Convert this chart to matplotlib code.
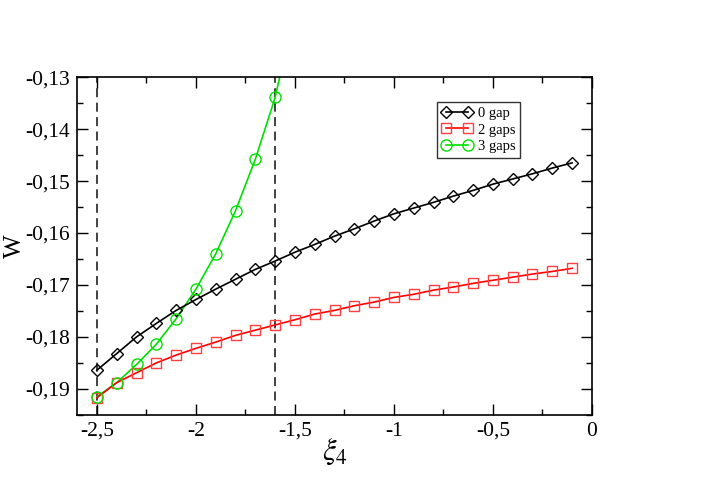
import matplotlib
matplotlib.use("Agg")
import matplotlib.pyplot as plt
from matplotlib.ticker import FuncFormatter, MultipleLocator

plt.rcParams['font.family'] = ['Liberation Serif', 'DejaVu Serif']
plt.rcParams['mathtext.fontset'] = 'stix'

# xi_4 values for the 0 gap and 2 gaps series
xi = [-2.5, -2.4, -2.3, -2.2, -2.1, -2.0, -1.9, -1.8, -1.7, -1.6, -1.5, -1.4, -1.3,
      -1.2, -1.1, -1.0, -0.9, -0.8, -0.7, -0.6, -0.5, -0.4, -0.3, -0.2, -0.1]
w_0gap = [-0.1864, -0.1832, -0.1800, -0.1774, -0.1749, -0.1728, -0.1708, -0.1689,
          -0.1670, -0.1654, -0.1637, -0.1622, -0.1606, -0.1592, -0.1577, -0.1563,
          -0.1552, -0.1541, -0.1529, -0.1518, -0.1506, -0.1496, -0.1486, -0.1475, -0.1465]
w_2gaps = [-0.1917, -0.1888, -0.1869, -0.1850, -0.1835, -0.1822, -0.1810, -0.1797,
           -0.1787, -0.1777, -0.1767, -0.1756, -0.1749, -0.1740, -0.1733, -0.1724,
           -0.1718, -0.1710, -0.1704, -0.1697, -0.1691, -0.1685, -0.1679, -0.1674, -0.1668]

# 3 gaps series (markers), the line keeps going out of the frame
xi_3 = [-2.5, -2.4, -2.3, -2.2, -2.1, -2.0, -1.9, -1.8, -1.7, -1.6]
w_3gaps = [-0.1915, -0.1888, -0.1853, -0.1814, -0.1765, -0.1708, -0.1640, -0.1557,
           -0.1458, -0.1339]
xi_3_line = xi_3 + [-1.5]
w_3_line = w_3gaps + [-0.117]

dash_x = [-2.5, -1.6]

fig = plt.figure(figsize=(7.08, 5.01), dpi=100)
ax = fig.add_axes([0.109, 0.172, 0.727, 0.674])

for xd in dash_x:
    ax.axvline(xd, color='#333333', ls=(0, (5, 3)), lw=1.3, zorder=1)

ax.plot(xi, w_0gap, color='black', lw=1.2, marker='D', ms=6.3, mfc='none',
        mec='black', mew=1.0, label='0 gap', zorder=3)
ax.plot(xi, w_2gaps, color='red', lw=1.2, marker='s', ms=7, mfc='none',
        mec='#ff4040', mew=1.0, label='2 gaps', zorder=3)
ax.plot(xi_3_line, w_3_line, color='#00e000', lw=1.2, zorder=2)
ax.plot(xi_3, w_3gaps, color='#00e000', lw=0, marker='o', ms=8, mfc='none',
        mec='#00e000', mew=1.0, zorder=3)
ax.plot([], [], color='#00e000', lw=1.2, marker='o', ms=8, mfc='none',
        mec='#00e000', mew=1.0, label='3 gaps')

ax.set_xlim(-2.6, 0)
ax.set_ylim(-0.195, -0.13)

ax.xaxis.set_major_locator(MultipleLocator(0.5))
ax.xaxis.set_minor_locator(MultipleLocator(0.25))
ax.yaxis.set_major_locator(MultipleLocator(0.01))
ax.yaxis.set_minor_locator(MultipleLocator(0.005))


def fmt_x(v, pos):
    if abs(v - round(v)) < 1e-9:
        return '%d' % round(v)
    return ('%.1f' % v).replace('.', ',')


def fmt_y(v, pos):
    return ('%.2f' % v).replace('.', ',')


ax.xaxis.set_major_formatter(FuncFormatter(fmt_x))
ax.yaxis.set_major_formatter(FuncFormatter(fmt_y))

ax.tick_params(which='both', direction='in', top=True, right=True, width=1.0)
ax.tick_params(which='major', length=8, labelsize=15.5, pad=5)
ax.tick_params(which='minor', length=4)
for s in ax.spines.values():
    s.set_linewidth(1.2)

ax.set_xlabel(r'$\xi_4$', fontsize=22, labelpad=-3)
ax.set_ylabel('W', fontsize=18, va='center')
ax.yaxis.set_label_coords(-0.12, 0.5)

leg = ax.legend(loc='upper left', bbox_to_anchor=(0.699, 0.926), numpoints=2,
                fontsize=10.5, frameon=True, fancybox=False, edgecolor='black',
                handlelength=2.1, borderpad=0.3, labelspacing=0.25,
                handletextpad=0.4, borderaxespad=0, markerscale=1.0)
leg.get_frame().set_linewidth(1.0)

fig.savefig('out.png', dpi=100)
